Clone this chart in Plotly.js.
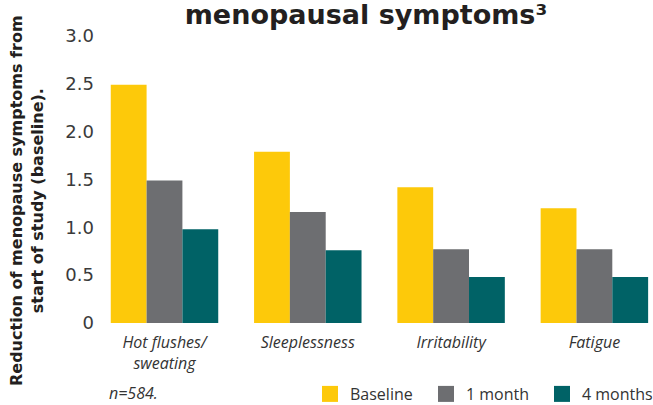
<!DOCTYPE html>
<html>
<head>
<meta charset="utf-8">
<script src="https://cdn.plot.ly/plotly-3.0.1.min.js"></script>
<style>html,body{margin:0;padding:0;background:#fff;}#chart{width:653px;height:405px;}</style>
</head>
<body>
<div id="chart"></div>
<script>
const categories = ["Hot flushes/<br>sweating", "Sleeplessness", "Irritability", "Fatigue"];
const baseline = [2.49, 1.79, 1.42, 1.20];
const oneMonth = [1.49, 1.16, 0.77, 0.77];
const fourMonths = [0.98, 0.76, 0.48, 0.48];
const seriesNames = ["Baseline", "1 month", "4 months"];
const yTickVals = [0, 0.5, 1, 1.5, 2, 2.5, 3];
const yTickText = ["0", "0.5", "1.0", "1.5", "2.0", "2.5", "3.0"];

const colors = ["#FDC90A", "#6D6E71", "#006266"];
const FONT = "Open Sans, Lato, sans-serif";
const WIDE = "DejaVu Sans, sans-serif";
const series = [baseline, oneMonth, fourMonths];
const traces = series.map((vals, i) => ({
  type: "bar",
  x: categories,
  y: vals,
  name: seriesNames[i],
  marker: {color: colors[i], line: {width: 0}},
  showlegend: false,
  hoverinfo: "skip"
}));
// legend entries (larger square symbols)
seriesNames.forEach((name, i) => {
  traces.push({
    type: "scatter", mode: "markers",
    x: [null], y: [null],
    name: name,
    marker: {symbol: "square", size: 16, color: colors[i]},
    showlegend: true,
    hoverinfo: "skip"
  });
});

const layout = {
  width: 653, height: 405,
  margin: {l: 95, r: 0, t: 36, b: 82, autoexpand: false},
  paper_bgcolor: "#fff", plot_bgcolor: "#fff",
  font: {family: FONT, color: "#333"},
  barmode: "group",
  bargap: 0.25,
  bargroupgap: 0,
  title: {
    text: "<b>menopausal symptoms³</b>",
    font: {family: WIDE, size: 27, color: "#231F20"},
    x: 366 / 653, xanchor: "center",
    y: 1 - 15 / 405, yanchor: "middle"
  },
  xaxis: {
    range: [-0.485, 3.409],
    showgrid: false, zeroline: false, showline: false, ticks: "",
    ticklabelstandoff: 8,
    tickfont: {family: FONT, size: 16, color: "#333", style: "italic"}
  },
  yaxis: {
    range: [0, 3],
    tickvals: yTickVals, ticktext: yTickText,
    showgrid: false, zeroline: false, showline: false, ticks: "",
    tickfont: {family: WIDE, size: 18, color: "#3a3a3a"}
  },
  showlegend: true,
  legend: {
    orientation: "h",
    x: (310 - 95) / 558, xanchor: "left",
    y: (323 - 394) / 287, yanchor: "middle",
    font: {family: FONT, size: 16, color: "#333"},
    entrywidth: 71, entrywidthmode: "pixels",
    itemsizing: "trace",
    traceorder: "normal"
  },
  annotations: [
    {
      text: "<b>Reduction of menopause symptoms from<br>start of study (baseline).</b>",
      textangle: -90,
      xref: "paper", yref: "paper",
      x: (27 - 95) / 558, y: (323 - 201) / 287,
      xanchor: "center", yanchor: "middle",
      showarrow: false,
      font: {family: WIDE, size: 16, color: "#231F20"}
    },
    {
      text: "n=584.",
      xref: "paper", yref: "paper",
      x: (107 - 95) / 558, y: (323 - 393) / 287,
      xanchor: "left", yanchor: "middle",
      showarrow: false,
      font: {family: FONT, size: 16, color: "#333", style: "italic"}
    }
  ]
};

Plotly.newPlot("chart", traces, layout, {displayModeBar: false, staticPlot: true});
</script>
</body>
</html>
